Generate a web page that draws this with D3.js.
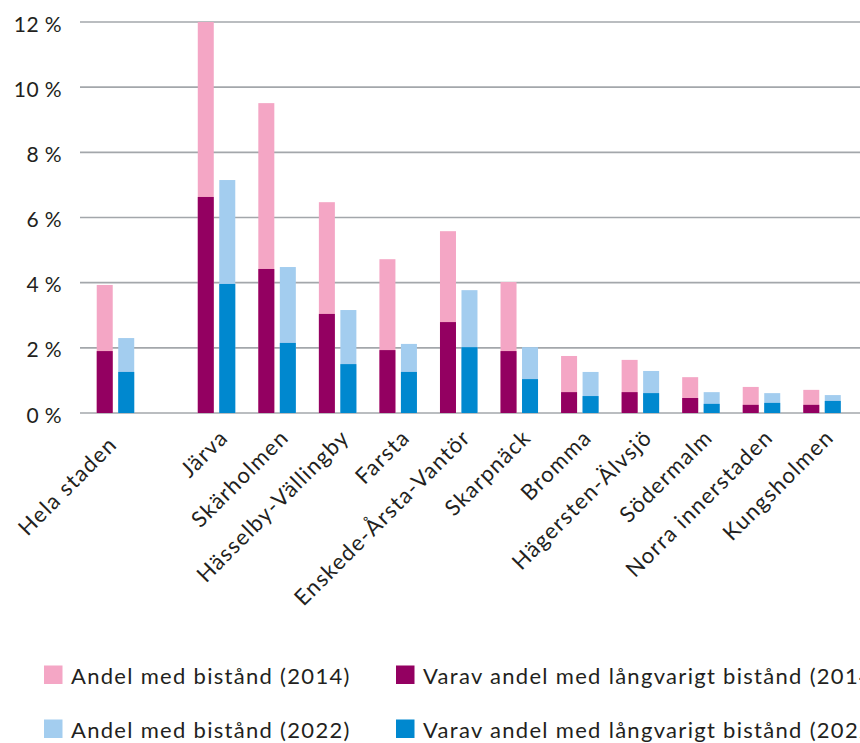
<html>
<head>
<meta charset="utf-8">
<script src="https://d3js.org/d3.v7.min.js"></script>
<style>
  body { margin: 0; background: white; }
  svg { font-family: "Lato", "Open Sans", sans-serif; }
</style>
</head>
<body>
<script>
var width = 860;
var height = 743;

// values in percent
var categories = ["Hela staden", "Järva", "Skärholmen", "Hässelby-Vällingby", "Farsta",
  "Enskede-Årsta-Vantör", "Skarpnäck", "Bromma", "Hägersten-Älvsjö", "Södermalm",
  "Norra innerstaden", "Kungsholmen"];
var total2014 = [3.93, 12.0, 9.51, 6.47, 4.72, 5.58, 4.02, 1.75, 1.63, 1.10, 0.80, 0.71];
var long2014  = [1.90, 6.63, 4.42, 3.04, 1.93, 2.79, 1.90, 0.64, 0.64, 0.46, 0.25, 0.25];
var total2022 = [2.30, 7.15, 4.48, 3.16, 2.12, 3.77, 2.02, 1.26, 1.29, 0.64, 0.61, 0.55];
var long2022  = [1.26, 3.96, 2.15, 1.50, 1.26, 2.02, 1.04, 0.52, 0.61, 0.28, 0.31, 0.37];
var yTicks = [0, 2, 4, 6, 8, 10, 12];
var legendLabels = ["Andel med bistånd (2014)", "Varav andel med långvarigt bistånd (2014)",
  "Andel med bistånd (2022)", "Varav andel med långvarigt bistånd (2022)"];

var pink = "#f4a6c5", plum = "#930061", lightBlue = "#a3cdef", blue = "#0088cf";
var textColor = "#231f20";

var y = d3.scaleLinear().domain([0, 12]).range([413, 22]);

var x = d3.scaleBand().domain(categories).range([85.2, 811.8]).padding(0);
var groupGap = 40.5;  // extra space after "Hela staden"
var barW = 16, innerGap = 5.5;
function cx(c) { return x(c) + x.bandwidth() / 2 + (c === categories[0] ? 0 : groupGap); }

var svg = d3.select("body").append("svg")
  .attr("width", width).attr("height", height);

// grid lines
svg.append("g").selectAll("line")
  .data(yTicks).enter().append("line")
  .attr("x1", 80).attr("x2", width)
  .attr("y1", function(d) { return y(d); })
  .attr("y2", function(d) { return y(d); })
  .attr("stroke", "#a3a7ab").attr("stroke-width", 1.6);

svg.append("g").selectAll("text")
  .data(yTicks).enter().append("text")
  .attr("x", 62).attr("y", function(d) { return y(d) + 2; })
  .attr("dy", "0.36em")
  .attr("text-anchor", "end")
  .attr("font-size", 21).attr("letter-spacing", 0.4).attr("fill", textColor)
  .text(function(d) { return d + " %"; });

var rows = categories.map(function(c, i) {
  return {c: c, t14: total2014[i], l14: long2014[i], t22: total2022[i], l22: long2022[i]};
});

var series = [
  {key: "t14", color: pink, off: -(innerGap / 2 + barW)},
  {key: "l14", color: plum, off: -(innerGap / 2 + barW)},
  {key: "t22", color: lightBlue, off: innerGap / 2},
  {key: "l22", color: blue, off: innerGap / 2}
];

series.forEach(function(s) {
  svg.append("g").selectAll("rect")
    .data(rows).enter().append("rect")
    .attr("x", function(d) { return cx(d.c) + s.off; })
    .attr("width", barW)
    .attr("y", function(d) { return y(d[s.key]); })
    .attr("height", function(d) { return y(0) - y(d[s.key]); })
    .attr("fill", s.color);
});

// category labels, rotated
svg.append("g").selectAll("text")
  .data(categories).enter().append("text")
  .attr("text-anchor", "end")
  .attr("font-size", 22).attr("letter-spacing", 1.3).attr("fill", textColor)
  .attr("transform", function(c, i) {
    var lx = i === 0 ? cx(c) + 3 : cx(c) + 13;
    var ly = i === 0 ? 446 : 439;
    return "translate(" + lx + "," + ly + ") rotate(-45)";
  })
  .text(function(c) { return c; });

// legend
var legendColors = [pink, plum, lightBlue, blue];
var legend = svg.append("g").selectAll("g")
  .data(legendLabels).enter().append("g")
  .attr("transform", function(d, i) {
    return "translate(" + (i % 2 === 0 ? 44 : 396) + "," + (i < 2 ? 684 : 738) + ")";
  });
legend.append("rect")
  .attr("x", 0).attr("y", -18.5).attr("width", 18.5).attr("height", 18.5)
  .attr("fill", function(d, i) { return legendColors[i]; });
legend.append("text")
  .attr("x", 27)
  .attr("font-size", 22).attr("letter-spacing", 1.3).attr("fill", textColor)
  .text(function(d) { return d; });
</script>
</body>
</html>
